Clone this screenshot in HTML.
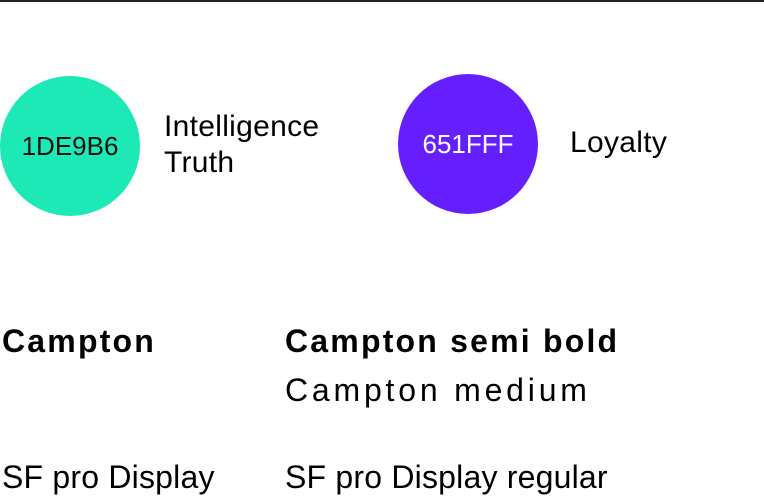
<!DOCTYPE html>
<html><head><style>
body{margin:0;width:764px;height:500px;background:#fff;position:relative;overflow:hidden;font-family:"Liberation Sans",sans-serif;color:#000}
.t{position:absolute;white-space:nowrap;line-height:1}
.c{position:absolute;border-radius:50%;display:flex;align-items:center;justify-content:center;font-size:26px}
</style></head><body>
<div style="position:absolute;left:0;top:0;width:764px;height:2px;background:#222"></div>
<div class="c" style="left:0;top:76px;width:140px;height:140px;background:#1DE9B6;color:#111">1DE9B6</div>
<div class="t" style="left:164px;top:112px;font-size:30px;letter-spacing:0.3px">Intelligence</div>
<div class="t" style="left:164px;top:148px;font-size:30px;letter-spacing:0.3px">Truth</div>
<div class="c" style="left:398px;top:74px;width:140px;height:140px;background:#651FFF;color:#fff">651FFF</div>
<div class="t" style="left:570px;top:128px;font-size:30px;letter-spacing:0.3px">Loyalty</div>
<div class="t" style="left:2px;top:325px;font-size:32px;font-weight:bold;letter-spacing:2.2px">Campton</div>
<div class="t" style="left:285px;top:325px;font-size:32px;font-weight:bold;letter-spacing:2.2px">Campton semi bold</div>
<div class="t" style="left:285px;top:374px;font-size:32px;letter-spacing:3.8px">Campton medium</div>
<div class="t" style="left:2px;top:461px;font-size:32px;letter-spacing:0.2px">SF pro Display</div>
<div class="t" style="left:285px;top:461px;font-size:32px;letter-spacing:0.2px">SF pro Display regular</div>
</body></html>
